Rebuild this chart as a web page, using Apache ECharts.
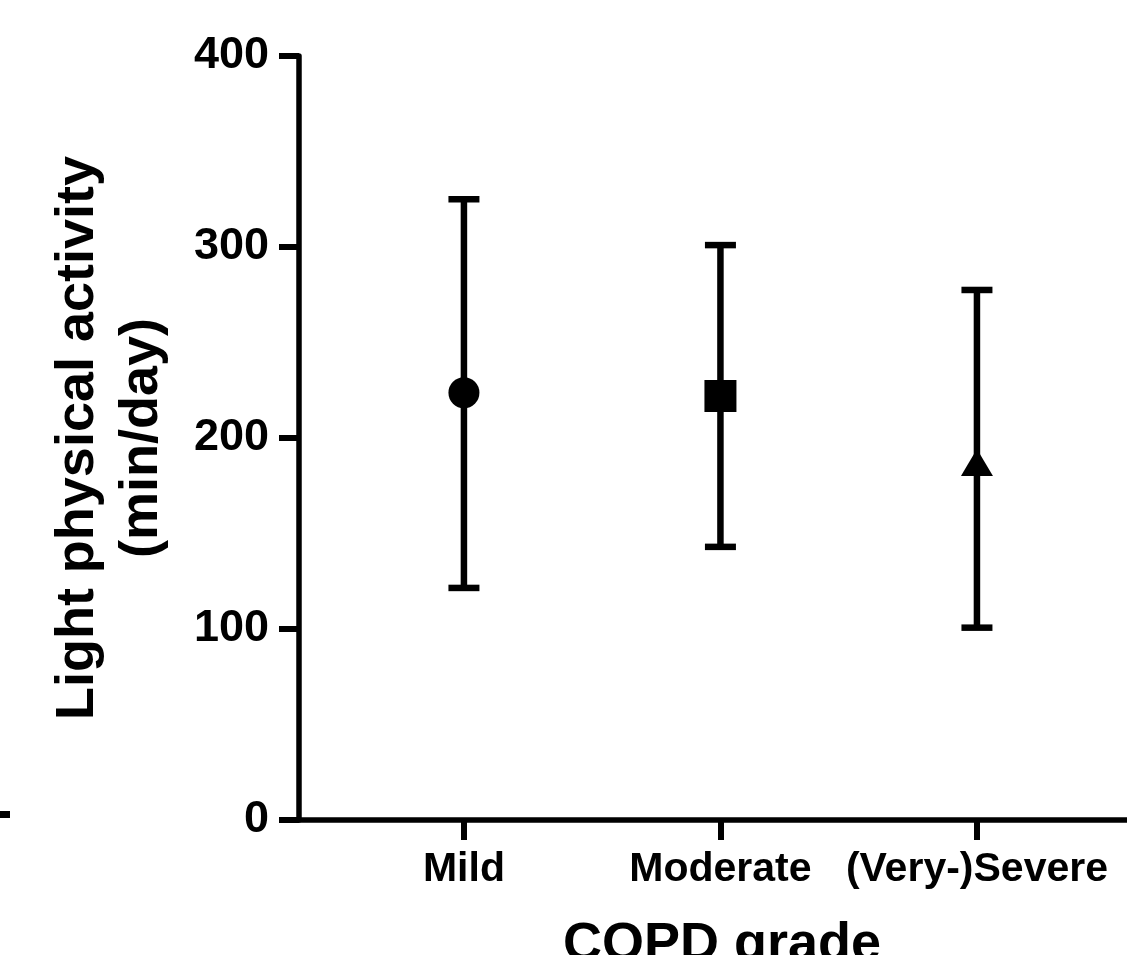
<!DOCTYPE html>
<html>
<head>
<meta charset="utf-8">
<script src="https://cdn.jsdelivr.net/npm/echarts@6/dist/echarts.min.js"></script>
<style>html,body{margin:0;padding:0;background:#fff;}#c{width:1127px;height:955px;}</style>
</head>
<body>
<div id="c"></div>
<script>
const categories = ['Mild', 'Moderate', '(Very-)Severe'];
const positions = [1, 2, 3];
const means = [223.7, 222, 187.2];
const upper = [325, 301, 277.5];
const lower = [121.5, 143, 100.7];
const symbols = ['circle', 'rect', 'triangle'];
const yTicks = [0, 100, 200, 300, 400];

const FONT = '"Liberation Sans", Arial, Helvetica, sans-serif';
const chart = echarts.init(document.getElementById('c'), null, {renderer: 'canvas'});

const errData = positions.map((p, i) => [p, lower[i], upper[i]]);
const meanData = positions.map((p, i) => ({
  value: [p, means[i]],
  symbol: symbols[i],
  symbolSize: symbols[i] === 'triangle' ? [32, 27] : (symbols[i] === 'rect' ? 32 : 31)
}));

chart.setOption({
  animation: false,
  backgroundColor: '#fff',
  grid: {left: 299, right: 0, top: 56, bottom: 135, containLabel: false, outerBoundsMode: 'none'},
  xAxis: {
    type: 'value',
    min: 0.357,
    max: 3.585,
    name: 'COPD grade',
    nameLocation: 'middle',
    nameGap: 98,
    nameTextStyle: {fontFamily: FONT, fontWeight: 'bold', fontSize: 54, color: '#000', padding: [0, 0, 0, 18]},
    axisLine: {show: true, lineStyle: {color: '#000', width: 5.5}},
    axisTick: {show: true, customValues: positions, length: 20, lineStyle: {color: '#000', width: 6}},
    axisLabel: {
      show: true,
      customValues: positions,
      margin: 29,
      fontFamily: FONT, fontWeight: 'bold', fontSize: 41, color: '#000',
      formatter: v => categories[Math.round(v) - 1] || ''
    },
    splitLine: {show: false}
  },
  yAxis: {
    type: 'value',
    min: 0,
    max: 400,
    interval: 100,
    name: 'Light physical activity\n(min/day)',
    nameLocation: 'middle',
    nameGap: 125,
    nameTextStyle: {fontFamily: FONT, fontWeight: 'bold', fontSize: 54, color: '#000', lineHeight: 64},
    axisLine: {show: true, lineStyle: {color: '#000', width: 5.5}},
    axisTick: {show: true, length: 20, lineStyle: {color: '#000', width: 6}},
    axisLabel: {margin: 30, fontFamily: FONT, fontWeight: 'bold', fontSize: 45, color: '#000',
      formatter: v => String(v)},
    splitLine: {show: false}
  },
  series: [
    {
      type: 'custom',
      data: errData,
      renderItem: function (params, api) {
        const x = api.value(0);
        const lo = api.coord([x, api.value(1)]);
        const hi = api.coord([x, api.value(2)]);
        const half = 15.5;
        const style = {stroke: '#000', lineWidth: 6.5};
        return {
          type: 'group',
          children: [
            {type: 'line', shape: {x1: lo[0], y1: lo[1], x2: hi[0], y2: hi[1]}, style: style},
            {type: 'line', shape: {x1: hi[0] - half, y1: hi[1], x2: hi[0] + half, y2: hi[1]}, style: style},
            {type: 'line', shape: {x1: lo[0] - half, y1: lo[1], x2: lo[0] + half, y2: lo[1]}, style: style}
          ]
        };
      },
      z: 2
    },
    {
      type: 'scatter',
      data: meanData,
      itemStyle: {color: '#000', opacity: 1},
      z: 3
    }
  ],
  graphic: [
    {type: 'rect', shape: {x: 0, y: 811, width: 10, height: 7}, style: {fill: '#000'}}
  ]
});
</script>
</body>
</html>
